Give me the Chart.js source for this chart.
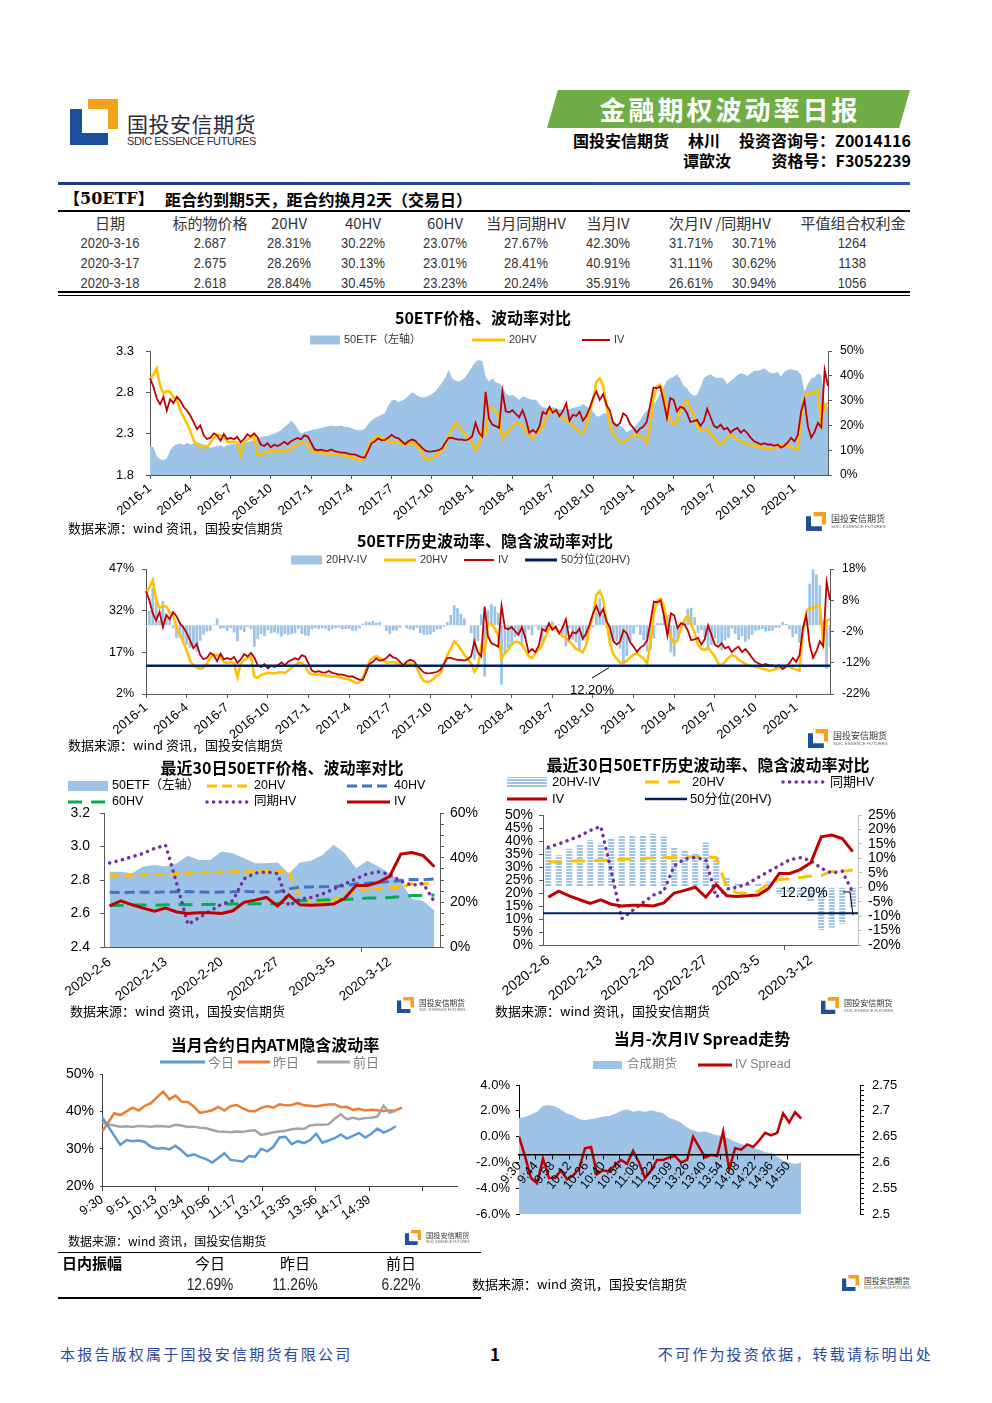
<!DOCTYPE html>
<html>
<head>
<meta charset="utf-8">
<script src="https://cdn.jsdelivr.net/npm/chart.js@4.4.0/dist/chart.umd.min.js"></script>
<style>
body{margin:0;background:#fff;}
#page{position:relative;width:992px;height:1403px;overflow:hidden;font-family:'Noto Sans CJK SC','Liberation Sans',sans-serif;color:#000;}
.t{position:absolute;white-space:nowrap;line-height:1;}
.c{transform:translate(-50%,-50%);}
.cn{transform:translate(-50%,-50%) scaleX(0.86);}
.m{transform:translateY(-50%);}
canvas{position:absolute;}
.src{font-size:13px;}
.num{font-family:'Liberation Sans',sans-serif;}
</style>
</head>
<body>
<div id="page">
  <!-- header -->
  <svg class="t" style="left:70px;top:99px" width="48" height="46" viewBox="0 0 48 46"><path fill="#f4a11e" d="M18 0H48V30H38V10H18Z"/><path fill="#1c4f9c" d="M0 10H12V34H38V46H0Z"/></svg>
  <div class="t m" style="left:127px;top:123px;font-size:21px;color:#2a2a3a;letter-spacing:0.5px">国投安信期货</div>
  <div class="t m num" style="left:127px;top:141px;font-size:11px;color:#2a2a3a;letter-spacing:-0.4px">SDIC ESSENCE FUTURES</div>
  <div class="t" style="left:547px;top:90px;width:363px;height:38px;background:#70ad47;clip-path:polygon(3% 0,100% 0,97% 100%,0 100%)"></div>
  <div class="t c" style="left:730px;top:109px;font-size:26px;font-weight:bold;color:#fff;letter-spacing:3px">金融期权波动率日报</div>
  <div class="t m" style="left:573px;top:140px;font-size:16px;font-weight:bold">国投安信期货</div>
  <div class="t m" style="left:688px;top:140px;font-size:16px;font-weight:bold">林川</div>
  <div class="t m" style="right:81px;top:140px;font-size:16px;font-weight:bold">投资咨询号：Z0014116</div>
  <div class="t m" style="left:683px;top:160px;font-size:16px;font-weight:bold">谭歆汝</div>
  <div class="t m" style="right:81px;top:160px;font-size:16px;font-weight:bold">资格号：F3052239</div>
  <div class="t" style="left:58px;top:182px;width:852px;height:3px;background:linear-gradient(90deg,#1c3a7a,#2c5aa8)"></div>

  <!-- summary table -->
  <div class="t m" style="left:64px;top:199px;font-size:16px;font-weight:bold;font-family:'DejaVu Serif','Noto Sans CJK SC',serif">【50ETF】</div>
  <div class="t m" style="left:165px;top:199px;font-size:16px;font-weight:bold">距合约到期5天，距合约换月2天（交易日）</div>
  <div class="t" style="left:58px;top:210px;width:852px;height:2px;background:#000"></div>
  <div id="tbl"></div>
  <div class="t" style="left:58px;top:291px;width:852px;height:2px;background:#000"></div>
  <div class="t" style="left:58px;top:295px;width:852px;height:1px;background:#000"></div>

  <canvas id="c1" width="992" height="230" style="left:0;top:300px;width:992px;height:230px"></canvas>
  <div class="t m src" style="left:68px;top:527px">数据来源：wind 资讯，国投安信期货</div>

  <canvas id="c2" width="992" height="220" style="left:0;top:530px;width:992px;height:220px"></canvas>
  <div class="t m src" style="left:68px;top:744px">数据来源：wind 资讯，国投安信期货</div>

  <canvas id="c3" width="435" height="255" style="left:55px;top:755px;width:435px;height:255px"></canvas>
  <canvas id="c4" width="440" height="255" style="left:490px;top:755px;width:440px;height:255px"></canvas>
  <div class="t m src" style="left:70px;top:1010px">数据来源：wind 资讯，国投安信期货</div>
  <div class="t m src" style="left:495px;top:1010px">数据来源：wind 资讯，国投安信期货</div>

  <canvas id="c5" width="415" height="205" style="left:55px;top:1030px;width:415px;height:205px"></canvas>
  <canvas id="c6" width="470" height="205" style="left:465px;top:1025px;width:470px;height:205px"></canvas>
  <div class="t m" style="left:68px;top:1241px;font-size:12px">数据来源：wind 资讯，国投安信期货</div>

  <!-- intraday amplitude -->
  <div class="t" style="left:58px;top:1252px;width:423px;height:1px;background:#000"></div>
  <div class="t m" style="left:62px;top:1262px;font-size:15px;font-weight:bold">日内振幅</div>
  <div id="amp"></div>
  <div class="t" style="left:58px;top:1297px;width:423px;height:2px;background:#000"></div>
  <div class="t m src" style="left:472px;top:1283px">数据来源：wind 资讯，国投安信期货</div>

  <div id="logos"></div>

  <!-- footer -->
  <div class="t m" style="left:60px;top:1353px;font-size:15px;color:#2b4a9b;letter-spacing:2.2px">本报告版权属于国投安信期货有限公司</div>
  <div class="t c" style="left:495px;top:1353px;font-size:17px;font-weight:bold">1</div>
  <div class="t m" style="right:59px;top:1353px;font-size:15px;color:#2b4a9b;letter-spacing:2.2px">不可作为投资依据，转载请标明出处</div>
</div>

<script>
// ---------- data ----------
const tableHead = ['日期', '标的物价格', '20HV', '40HV', '60HV', '当月同期HV', '当月IV', '次月IV /同期HV', '平值组合权利金'];
const tableRows = [
  ['2020-3-16', '2.687', '28.31%', '30.22%', '23.07%', '27.67%', '42.30%', '31.71%', '30.71%', '1264'],
  ['2020-3-17', '2.675', '28.26%', '30.13%', '23.01%', '28.41%', '40.91%', '31.11%', '30.62%', '1138'],
  ['2020-3-18', '2.618', '28.84%', '30.45%', '23.23%', '20.24%', '35.91%', '26.61%', '30.94%', '1056']
];
const ampHead = ['今日', '昨日', '前日'];
const ampValues = ['12.69%', '11.26%', '6.22%'];

// weekly samples 2016-1 .. 2020-3-18
const quarterTicks = ['2016-1', '2016-4', '2016-7', '2016-10', '2017-1', '2017-4', '2017-7', '2017-10',
  '2018-1', '2018-4', '2018-7', '2018-10', '2019-1', '2019-4', '2019-7', '2019-10', '2020-1'];
const etfPrice = [
  2.15, 2.14, 2.03, 1.99, 1.98, 2.00, 2.10, 2.15, 2.17, 2.18,
  2.16, 2.19, 2.17, 2.18, 2.20, 2.18, 2.17, 2.16, 2.13, 2.14,
  2.15, 2.16, 2.14, 2.16, 2.17, 2.18, 2.17, 2.18, 2.19, 2.20,
  2.21, 2.23, 2.24, 2.26, 2.27, 2.27, 2.29, 2.30, 2.32, 2.34,
  2.38, 2.41, 2.46, 2.42, 2.36, 2.30, 2.32, 2.33, 2.34, 2.35,
  2.36, 2.37, 2.38, 2.39, 2.40, 2.39, 2.39, 2.40, 2.38, 2.38,
  2.37, 2.35, 2.34, 2.34, 2.36, 2.42, 2.46, 2.49, 2.51, 2.53,
  2.55, 2.64, 2.70, 2.71, 2.68, 2.70, 2.72, 2.76, 2.80, 2.78,
  2.75, 2.74, 2.74, 2.76, 2.78, 2.81, 2.86, 2.92, 2.98, 3.07,
  2.97, 2.94, 2.93, 2.95, 2.99, 3.05, 3.11, 3.17, 3.19, 3.18,
  2.99, 2.93, 2.97, 2.92, 2.91, 2.87, 2.79, 2.76, 2.77, 2.74,
  2.71, 2.75, 2.74, 2.72, 2.71, 2.71, 2.66, 2.62, 2.61, 2.60,
  2.62, 2.61, 2.59, 2.60, 2.59, 2.60, 2.61, 2.62, 2.63, 2.66,
  2.63, 2.61, 2.57, 2.51, 2.51, 2.54, 2.55, 2.51, 2.46, 2.42,
  2.40, 2.37, 2.32, 2.34, 2.37, 2.41, 2.46, 2.53, 2.58, 2.61,
  2.65, 2.71, 2.78, 2.86, 2.94, 2.97, 2.99, 3.02, 2.96, 2.88,
  2.85, 2.79, 2.76, 2.77, 2.86, 2.97, 3.00, 3.02, 2.99, 2.97,
  2.98, 2.96, 2.90, 2.94, 2.97, 3.01, 3.03, 3.02, 3.00, 3.03,
  3.06, 3.06, 3.07, 3.09, 3.06, 3.03, 3.03, 3.05, 2.99, 3.05,
  3.07, 3.08, 3.07, 3.06, 3.01, 2.81, 2.90, 2.97, 2.98, 3.03,
  3.01, 2.687, 2.618
];
const hv20 = [
  38.4, 40.4, 43.0, 36.0, 33.0, 33.8, 33.5, 31.3, 30.5, 26.0,
  23.5, 20.8, 17.8, 14.0, 12.2, 11.5, 11.1, 11.5, 13.0, 15.0,
  16.2, 16.0, 15.4, 13.5, 13.2, 13.5, 13.1, 8.0, 13.0, 14.2,
  15.0, 15.5, 8.3, 7.8, 8.9, 9.3, 9.6, 9.6, 9.4, 9.7,
  9.8, 9.6, 10.5, 11.5, 12.3, 13.3, 13.2, 12.2, 9.6, 9.1,
  9.0, 9.0, 8.8, 8.6, 8.4, 8.3, 8.3, 8.2, 7.7, 7.4,
  7.2, 6.6, 5.9, 6.2, 7.5, 11.0, 13.8, 15.0, 15.6, 15.0,
  14.3, 13.2, 13.4, 13.5, 13.1, 12.8, 12.3, 12.6, 13.0, 12.4,
  11.6, 8.5, 6.8, 6.3, 6.6, 7.6, 8.6, 9.6, 12.5, 16.0,
  18.3, 21.0, 19.8, 18.0, 16.2, 14.5, 13.0, 10.0, 12.0, 19.0,
  17.0, 27.5, 27.0, 25.7, 23.0, 14.7, 16.6, 18.0, 19.7, 20.9,
  20.7, 19.7, 17.9, 15.6, 15.0, 16.8, 17.9, 19.7, 22.7, 25.7,
  26.2, 25.7, 24.1, 22.7, 22.2, 20.9, 19.7, 18.3, 17.6, 17.0,
  19.7, 25.7, 30.3, 37.7, 39.0, 36.1, 27.7, 20.3, 16.3, 14.7,
  13.4, 13.0, 14.0, 15.2, 16.3, 16.6, 15.6, 14.7, 13.0, 20.3,
  31.0, 35.7, 36.4, 33.4, 26.3, 22.3, 20.3, 21.3, 25.7, 28.6,
  30.2, 27.0, 24.3, 19.7, 18.2, 17.9, 18.7, 17.0, 15.5, 13.0,
  12.3, 13.6, 15.0, 16.0, 15.6, 14.3, 13.6, 12.8, 12.3, 12.0,
  11.8, 11.5, 11.1, 10.8, 10.4, 10.6, 11.0, 11.5, 12.0, 12.2,
  11.8, 11.2, 10.8, 10.4, 24.0, 31.7, 33.0, 32.9, 33.6, 33.8,
  20.7, 28.31, 28.84
];
const ivSeries = [
  39.0, 35.7, 31.0, 28.5, 31.5, 26.0, 30.5, 29.0, 31.5, 30.0,
  27.5, 26.0, 24.0, 21.3, 18.5, 20.0, 16.0, 14.5, 15.0, 16.8,
  16.0, 13.8, 16.5, 14.5, 15.0, 14.4, 15.4, 13.2, 14.5, 16.4,
  15.5, 16.8, 15.2, 12.3, 11.7, 12.8, 11.2, 12.2, 11.7, 12.4,
  13.4, 12.4, 13.6, 14.3, 14.9, 14.4, 16.0, 15.5, 13.0, 10.4,
  9.9, 10.2, 9.8, 9.7, 10.3, 9.6, 9.3, 9.0, 9.0, 8.6,
  8.3, 8.3, 7.7, 7.2, 7.0, 9.8, 12.8, 13.6, 14.8, 14.0,
  14.2, 15.0, 16.2, 15.2, 14.8, 13.6, 12.4, 13.6, 14.3, 13.9,
  12.4, 11.0, 9.8, 9.4, 9.5, 9.7, 10.0, 10.8, 13.0, 15.0,
  15.0, 14.6, 14.3, 14.3, 14.0, 14.5, 15.6, 21.0, 17.0, 15.5,
  33.5, 22.7, 20.3, 19.7, 19.0, 33.7, 25.7, 25.3, 26.1, 24.6,
  23.3, 26.1, 22.3, 17.0, 18.2, 17.1, 19.5, 25.4, 24.6, 27.5,
  25.1, 26.2, 23.8, 25.7, 28.9, 21.9, 24.3, 23.8, 25.5, 21.9,
  23.8, 27.0, 31.0, 33.7, 30.3, 32.6, 28.3, 25.9, 21.1, 19.8,
  20.9, 24.9, 23.8, 20.6, 19.0, 17.1, 18.7, 19.5, 21.4, 28.1,
  35.3, 35.0, 35.7, 29.9, 23.0, 31.0, 30.3, 25.7, 27.5, 27.0,
  24.9, 21.4, 21.7, 22.2, 19.8, 21.7, 26.7, 23.3, 19.8, 19.0,
  20.3, 18.4, 19.0, 17.1, 18.3, 19.0, 17.1, 18.2, 16.8, 15.0,
  13.6, 13.0, 12.3, 12.8, 12.3, 12.3, 11.8, 12.3, 11.0, 11.8,
  13.1, 15.0, 13.6, 16.0, 25.7, 30.3, 19.7, 15.0, 17.4, 21.0,
  19.2, 42.3, 35.91
];
const hv20Pct50 = 12.2;

// last 30 trading days
const dates30 = ['2020-2-6', '2020-2-7', '2020-2-10', '2020-2-11', '2020-2-12', '2020-2-13', '2020-2-14',
  '2020-2-17', '2020-2-18', '2020-2-19', '2020-2-20', '2020-2-21', '2020-2-24', '2020-2-25', '2020-2-26',
  '2020-2-27', '2020-2-28', '2020-3-2', '2020-3-3', '2020-3-4', '2020-3-5', '2020-3-6', '2020-3-9',
  '2020-3-10', '2020-3-11', '2020-3-12', '2020-3-13', '2020-3-16', '2020-3-17', '2020-3-18'];
const price30 = [2.85, 2.85, 2.84, 2.88, 2.89, 2.88, 2.90, 2.945, 2.92, 2.92, 2.97, 2.96, 2.93, 2.90, 2.90,
  2.905, 2.84, 2.905, 2.915, 2.95, 3.01, 2.96, 2.87, 2.915, 2.88, 2.84, 2.79, 2.687, 2.675, 2.618];
const hv20d30 = [32.0, 31.8, 32.2, 32.4, 32.3, 32.5, 32.8, 33.0, 33.2, 33.3, 33.5, 33.7, 33.6, 33.8, 34.0,
  33.9, 33.6, 22.2, 20.0, 20.0, 20.7, 23.7, 25.2, 25.5, 26.0, 26.5, 26.8, 28.31, 28.26, 28.84];
const hv40d30 = [24.5, 24.4, 24.5, 24.6, 24.5, 24.6, 24.7, 24.8, 24.6, 24.5, 24.6, 24.7, 24.8, 24.7, 24.6,
  24.6, 26.0, 26.8, 26.9, 27.0, 27.1, 27.5, 28.3, 28.5, 29.0, 29.2, 29.8, 30.22, 30.13, 30.45];
const hv60d30 = [18.7, 18.6, 18.8, 18.8, 18.7, 18.9, 19.0, 18.9, 19.1, 19.0, 19.2, 19.3, 19.2, 19.4, 19.3,
  19.5, 20.2, 20.7, 20.9, 21.0, 21.2, 21.3, 21.6, 21.9, 21.9, 22.2, 22.5, 23.07, 23.01, 23.23];
const sameHv30 = [37.6, 38.9, 40.4, 41.9, 44.1, 45.6, 28.3, 10.1, 13.2, 16.2, 19.2, 20.7, 30.5, 33.1, 33.6,
  32.8, 18.4, 21.5, 22.2, 23.7, 26.0, 28.3, 30.5, 32.8, 33.6, 32.5, 29.5, 27.67, 28.41, 20.24];
const iv30 = [18.4, 20.7, 18.9, 17.4, 16.0, 17.4, 15.7, 15.0, 15.3, 15.3, 15.0, 16.2, 20.0, 21.0, 22.2,
  18.4, 23.3, 18.9, 18.7, 18.9, 19.2, 21.8, 27.5, 27.5, 29.0, 31.6, 41.6, 42.30, 40.91, 35.91];

// intraday ATM IV, one sample every 5 minutes
const intradayTicks = ['9:30', '9:51', '10:13', '10:34', '10:56', '11:17', '13:12', '13:35', '13:56', '14:17', '14:39'];
const todayIv = [38.5, 36.0, 33.5, 31.0, 32.3, 32.0, 32.2, 31.8, 30.5, 30.0, 30.2, 29.8, 30.8, 29.5, 28.0,
  28.5, 27.8, 27.2, 26.3, 27.5, 28.8, 27.0, 26.8, 26.5, 28.0, 27.8, 30.0, 29.3, 30.5, 33.0, 33.2, 31.2,
  32.0, 31.5, 32.3, 34.0, 31.6, 32.2, 32.8, 33.8, 32.7, 33.4, 34.2, 33.0, 34.0, 35.4, 34.3, 35.0, 36.0];
const yesterdayIv = [34.5, 37.0, 39.5, 39.0, 40.0, 41.0, 40.2, 41.5, 42.2, 43.8, 45.3, 43.2, 44.2, 42.6, 42.5,
  41.3, 39.6, 39.9, 40.3, 41.2, 40.2, 41.4, 41.7, 40.8, 40.1, 40.0, 40.9, 41.4, 41.0, 41.9, 41.6, 41.7,
  42.2, 41.6, 41.5, 41.3, 41.6, 41.8, 41.9, 41.1, 41.2, 40.4, 40.7, 40.2, 40.4, 40.3, 40.1, 40.2, 40.3, 41.0];
const prevDayIv = [37.0, 36.5, 36.2, 35.9, 36.0, 35.8, 36.1, 36.0, 35.9, 36.1, 36.0, 35.9, 36.4, 36.2, 35.8,
  35.9, 35.6, 35.5, 35.0, 34.6, 34.5, 34.4, 34.6, 34.5, 34.8, 34.9, 33.7, 34.0, 34.4, 34.6, 34.8, 35.2,
  35.4, 35.3, 36.2, 36.4, 36.4, 36.5, 38.0, 39.2, 37.9, 38.3, 37.9, 38.2, 38.3, 38.6, 41.5, 39.6, 40.2];

// front-next month IV spread and synthetic futures, one sample every 5 minutes
const spreadTicks = ['9:30', '9:44', '9:58', '10:12', '10:26', '10:40', '10:54', '11:08', '11:22', '13:09',
  '13:26', '13:40', '13:54', '14:08', '14:22', '14:36', '14:50'];
const ivSpread = [0.0, -1.5, -3.2, -3.6, -1.7, -3.2, -3.2, -2.6, -3.3, -3.0, -2.5, -0.9, -0.8, -2.9, -2.6,
  -2.7, -2.2, -1.8, -2.1, -1.1, -2.0, -3.2, -2.6, -1.8, -1.8, -1.6, -1.5, -2.0, -1.8, 0.0, -0.8, -1.6,
  -1.4, -1.5, 0.4, -2.5, -0.9, -1.0, -0.6, -0.8, -0.3, 0.3, 0.1, 0.3, 1.8, 1.1, 1.9, 1.4];
const synthFutures = [2.686, 2.688, 2.693, 2.698, 2.710, 2.711, 2.709, 2.702, 2.695, 2.691, 2.684, 2.682,
  2.684, 2.686, 2.689, 2.690, 2.694, 2.700, 2.703, 2.698, 2.700, 2.698, 2.701, 2.698, 2.696, 2.686, 2.683,
  2.677, 2.668, 2.662, 2.659, 2.660, 2.656, 2.653, 2.651, 2.646, 2.640, 2.636, 2.632, 2.628, 2.625, 2.620,
  2.619, 2.611, 2.604, 2.600, 2.597, 2.600];

// ---------- static text ----------
const headX = [110, 210, 289, 363, 445, 526, 608, 720, 853];
const rowX = [110, 210, 289, 363, 445, 526, 608, 691, 754, 852];
let html = '';
tableHead.forEach((h, i) => {
  html += `<div class="t c" style="left:${headX[i]}px;top:222px;font-size:15px;color:#333">${h}</div>`;
});
tableRows.forEach((row, r) => {
  row.forEach((v, i) => {
    html += `<div class="t cn num" style="left:${rowX[i]}px;top:${242 + r * 20}px;font-size:15px;color:#333">${v}</div>`;
  });
});
document.getElementById('tbl').innerHTML = html;

const ampX = [210, 295, 401];
html = '';
ampHead.forEach((h, i) => {
  html += `<div class="t c" style="left:${ampX[i]}px;top:1262px;font-size:15px">${h}</div>`;
  html += `<div class="t cn num" style="left:${ampX[i]}px;top:1285px;font-size:16px;color:#222">${ampValues[i]}</div>`;
});
document.getElementById('amp').innerHTML = html;

function smallLogo(x, y, w) {
  const h = w * 46 / 48;
  return `<svg class="t" style="left:${x}px;top:${y}px" width="${w}" height="${h}" viewBox="0 0 48 46"><path fill="#f4a11e" d="M18 0H48V30H38V10H18Z"/><path fill="#1c4f9c" d="M0 10H12V34H38V46H0Z"/></svg>` +
    `<div class="t" style="left:${x + w + 5}px;top:${y + 2}px;font-size:${w * 0.45}px;color:#333">国投安信期货</div>` +
    `<div class="t num" style="left:${x + w + 5}px;top:${y + 3 + w * 0.5}px;font-size:${w * 0.22}px;color:#666">SDIC ESSENCE FUTURES</div>`;
}
document.getElementById('logos').innerHTML =
  smallLogo(806, 512, 20) + smallLogo(808, 729, 20) + smallLogo(397, 997, 17) +
  smallLogo(821, 997, 18) + smallLogo(405, 1230, 16) + smallLogo(842, 1275, 17);

// ---------- charts ----------
const AXIS = '#595959';
const BLUE_FILL = '#9dc3e6';
const YELLOW = '#ffc000';
const RED = '#c00000';
const NAVY = '#002060';
const HIDE = 'rgba(0,0,0,0)';

Chart.defaults.font.family = "'Liberation Sans','Noto Sans CJK SC',sans-serif";
Chart.defaults.font.size = 13;
Chart.defaults.color = '#000';

// titles, fixed-position legends, reference line and callout
const decor = {
  id: 'decor',
  afterDatasetsDraw(chart, args, o) {
    if (!o.refLine) return;
    const ctx = chart.ctx;
    const y = chart.scales[o.refLine.axis].getPixelForValue(o.refLine.value);
    ctx.save();
    ctx.strokeStyle = o.refLine.color;
    ctx.lineWidth = o.refLine.width;
    ctx.beginPath();
    ctx.moveTo(chart.chartArea.left, y);
    ctx.lineTo(chart.chartArea.right, y);
    ctx.stroke();
    ctx.restore();
  },
  afterDraw(chart, args, o) {
    const ctx = chart.ctx;
    ctx.save();
    ctx.textBaseline = 'middle';
    if (o.title) {
      ctx.font = o.title.font;
      ctx.fillStyle = '#000';
      ctx.textAlign = 'center';
      ctx.fillText(o.title.text, o.title.x, o.title.y);
    }
    ctx.textAlign = 'left';
    (o.legend || []).forEach(it => {
      const ds = chart.data.datasets[it.ds];
      ctx.save();
      if (it.box) {
        ctx.fillStyle = ds.backgroundColor;
        ctx.fillRect(it.x, it.y - (it.h || 8) / 2, it.w, it.h || 8);
      } else {
        ctx.strokeStyle = ds.borderColor;
        ctx.lineWidth = it.lw || ds.borderWidth;
        ctx.setLineDash(ds.borderDash || []);
        ctx.lineCap = ds.borderCapStyle || 'butt';
        ctx.beginPath();
        ctx.moveTo(it.x, it.y);
        ctx.lineTo(it.x + it.w, it.y);
        ctx.stroke();
      }
      ctx.restore();
      ctx.font = o.legendFont;
      ctx.fillStyle = o.legendColor || '#000';
      ctx.fillText(ds.label, it.tx !== undefined ? it.tx : it.x + it.w + 4, it.y);
    });
    if (o.note) {
      const n = o.note;
      const yv = chart.scales[n.axis].getPixelForValue(n.value);
      ctx.strokeStyle = '#000';
      ctx.lineWidth = 1;
      ctx.beginPath();
      n.path.forEach((p, i) => {
        const py = p[1] === 'v' ? yv + 2 : p[1];
        if (i) ctx.lineTo(p[0], py); else ctx.moveTo(p[0], py);
      });
      ctx.stroke();
      ctx.font = n.font;
      ctx.fillStyle = '#000';
      ctx.textAlign = 'center';
      ctx.fillText(n.value.toFixed(2) + '%', n.x, n.y);
    }
    ctx.restore();
  }
};
Chart.register(decor);

function valueAxis(c) {
  return {
    position: c.pos, min: c.min, max: c.max,
    ticks: {
      stepSize: c.step, padding: c.pad === undefined ? 6 : c.pad, autoSkip: false,
      font: { size: c.size || 13 }, color: '#000',
      callback: v => (c.show && !c.show(v)) ? '' : c.fmt(v)
    },
    grid: { drawOnChartArea: false, drawTicks: true, tickLength: c.tick === undefined ? 4 : c.tick, color: c.color || AXIS },
    border: { display: true, color: c.color || AXIS, width: 1 },
    afterFit: s => { s.width = c.width; }
  };
}

const longLabels = [];
for (let y = 2016; y <= 2020; y++) {
  for (let m = 1; m <= 12; m++) {
    if (y === 2020 && m > 3) break;
    const n = (y === 2020 && m === 3) ? 3 : 4;
    for (let w = 0; w < n; w++) longLabels.push(w === 0 ? y + '-' + m : '');
  }
}

function longX(height) {
  return {
    type: 'category', offset: false,
    ticks: {
      autoSkip: false, maxRotation: 40, minRotation: 40, padding: 2, font: { size: 13 },
      callback(v) { const l = this.getLabelForValue(v); return quarterTicks.includes(l) ? l : null; }
    },
    grid: { drawOnChartArea: false, offset: false, tickLength: 4, color: c => (c.tick && c.tick.label ? AXIS : HIDE) },
    border: { display: true, color: AXIS },
    afterFit: s => { s.height = height; }
  };
}

function shortX(height, size) {
  return {
    type: 'category', offset: true,
    ticks: {
      autoSkip: false, maxRotation: 38, minRotation: 38, padding: 2, font: { size },
      callback(v, i) { return i % 5 === 0 ? this.getLabelForValue(v) : null; }
    },
    grid: { drawOnChartArea: false, offset: true, tickLength: 5, color: c => (c.index % 5 === 0 ? AXIS : HIDE) },
    border: { display: true, color: AXIS },
    afterFit: s => { s.height = height; }
  };
}

function opts(padding, scales, decorOpts) {
  return {
    responsive: false, animation: false,
    layout: { padding },
    scales,
    elements: { point: { radius: 0 }, line: { tension: 0 } },
    plugins: { legend: { display: false }, tooltip: { enabled: false }, title: { display: false }, decor: decorOpts }
  };
}

const toXY = (arr, step) => arr.map((v, j) => ({ x: j * step, y: v }));

// chart 1: 50ETF price vs volatility
new Chart(document.getElementById('c1'), {
  type: 'line',
  data: {
    labels: longLabels,
    datasets: [
      { label: '50ETF（左轴）', data: etfPrice, yAxisID: 'y', fill: 'start', backgroundColor: BLUE_FILL, borderWidth: 0, order: 3 },
      { label: '20HV', data: hv20, yAxisID: 'y1', borderColor: YELLOW, borderWidth: 2.5, fill: false, order: 2 },
      { label: 'IV', data: ivSeries, yAxisID: 'y1', borderColor: RED, borderWidth: 1.8, fill: false, order: 1 }
    ]
  },
  options: opts({ top: 51, left: 0, right: 0, bottom: 0 }, {
    x: longX(55),
    y: valueAxis({ pos: 'left', min: 1.8, max: 3.3, step: 0.5, width: 150, pad: 12, fmt: v => v.toFixed(1) }),
    y1: valueAxis({ pos: 'right', min: 0, max: 50, step: 10, width: 164, pad: 8, size: 12, fmt: v => v + '%' })
  }, {
    title: { text: '50ETF价格、波动率对比', x: 483, y: 18, font: "bold 16px 'Noto Sans CJK SC'" },
    legendFont: "11px 'Liberation Sans','Noto Sans CJK SC'", legendColor: '#333',
    legend: [
      { ds: 0, box: true, x: 310, y: 40, w: 30, h: 9 },
      { ds: 1, x: 472, y: 40, w: 33, lw: 3 },
      { ds: 2, x: 582, y: 40, w: 28, lw: 2 }
    ]
  })
});

// chart 2: historical vs implied volatility
new Chart(document.getElementById('c2'), {
  type: 'bar',
  data: {
    labels: longLabels,
    datasets: [
      { label: '20HV-IV', data: hv20.map((v, i) => +(v - ivSeries[i]).toFixed(2)), yAxisID: 'y1', backgroundColor: BLUE_FILL,
        borderWidth: 0, barPercentage: 0.8, categoryPercentage: 1, order: 4 },
      { type: 'line', label: '20HV', data: hv20, yAxisID: 'y', borderColor: YELLOW, borderWidth: 2.5, fill: false, order: 2 },
      { type: 'line', label: 'IV', data: ivSeries, yAxisID: 'y', borderColor: RED, borderWidth: 1.8, fill: false, order: 1 },
      { type: 'line', label: '50分位(20HV)', data: [], yAxisID: 'y', borderColor: NAVY, borderWidth: 3, order: 0 }
    ]
  },
  options: opts({ top: 39, left: 0, right: 0, bottom: 0 }, {
    x: longX(56),
    y: valueAxis({ pos: 'left', min: 2, max: 47, step: 15, width: 146, pad: 8, size: 12.5, fmt: v => v + '%' }),
    y1: valueAxis({ pos: 'right', min: -22, max: 18, step: 10, width: 162, pad: 8, size: 12, fmt: v => v + '%' })
  }, {
    title: { text: '50ETF历史波动率、隐含波动率对比', x: 485, y: 11, font: "bold 16px 'Noto Sans CJK SC'" },
    legendFont: "11px 'Liberation Sans','Noto Sans CJK SC'", legendColor: '#333',
    legend: [
      { ds: 0, box: true, x: 291, y: 30, w: 31, h: 9 },
      { ds: 1, x: 384, y: 30, w: 32, lw: 3 },
      { ds: 2, x: 464, y: 30, w: 30, lw: 2 },
      { ds: 3, x: 525, y: 30, w: 32, lw: 3 }
    ],
    refLine: { axis: 'y', value: hv20Pct50, color: NAVY, width: 2.5 },
    note: { axis: 'y', value: hv20Pct50, x: 592, y: 160, font: "13px 'Liberation Sans'", path: [[609, 'v'], [592, 148]] }
  })
});

// chart 3: last 30 days price vs volatility
new Chart(document.getElementById('c3'), {
  type: 'line',
  data: {
    labels: dates30,
    datasets: [
      { label: '50ETF（左轴）', data: price30, yAxisID: 'y', fill: 'start', backgroundColor: BLUE_FILL, borderWidth: 0, order: 9 },
      { label: '20HV', data: hv20d30, yAxisID: 'y1', borderColor: YELLOW, borderWidth: 3, borderDash: [10, 5], fill: false, order: 5 },
      { label: '40HV', data: hv40d30, yAxisID: 'y1', borderColor: '#4472c4', borderWidth: 3, borderDash: [10, 5], fill: false, order: 4 },
      { label: '60HV', data: hv60d30, yAxisID: 'y1', borderColor: '#00b050', borderWidth: 3, borderDash: [14, 9], fill: false, order: 3 },
      { label: '同期HV', data: sameHv30, yAxisID: 'y1', borderColor: '#7030a0', borderWidth: 3.5, borderDash: [0.1, 6.5], borderCapStyle: 'round', fill: false, order: 2 },
      { label: 'IV', data: iv30, yAxisID: 'y1', borderColor: RED, borderWidth: 3, fill: false, order: 1 }
    ]
  },
  options: opts({ top: 58, left: 0, right: 0, bottom: 0 }, {
    x: shortX(63, 13.5),
    y: valueAxis({ pos: 'left', min: 2.4, max: 3.2, step: 0.2, width: 49, pad: 10, size: 14, fmt: v => v.toFixed(1) }),
    y1: valueAxis({ pos: 'right', min: 0, max: 60, step: 5, width: 50, pad: 6, size: 14, show: v => v % 20 === 0, fmt: v => v + '%' })
  }, {
    title: { text: '最近30日50ETF价格、波动率对比', x: 227, y: 13, font: "bold 16px 'Noto Sans CJK SC'" },
    legendFont: "12.5px 'Liberation Sans','Noto Sans CJK SC'",
    legend: [
      { ds: 0, box: true, x: 13, y: 31, w: 40, h: 10 },
      { ds: 1, x: 152, y: 31, w: 43 },
      { ds: 2, x: 292, y: 31, w: 43 },
      { ds: 3, x: 13, y: 47, w: 40 },
      { ds: 4, x: 152, y: 47, w: 43 },
      { ds: 5, x: 292, y: 47, w: 43 }
    ]
  })
});

// chart 4: last 30 days historical vs implied volatility
const stripe = document.createElement('canvas');
stripe.width = 4; stripe.height = 3;
const sctx = stripe.getContext('2d');
sctx.fillStyle = '#fff'; sctx.fillRect(0, 0, 4, 3);
sctx.fillStyle = BLUE_FILL; sctx.fillRect(0, 0, 4, 2);
const stripeFill = sctx.createPattern(stripe, 'repeat');

new Chart(document.getElementById('c4'), {
  type: 'bar',
  data: {
    labels: dates30,
    datasets: [
      { label: '20HV-IV', data: hv20d30.map((v, i) => +(v - iv30[i]).toFixed(2)), yAxisID: 'y1', backgroundColor: stripeFill,
        borderWidth: 0, barPercentage: 0.58, categoryPercentage: 1, order: 9 },
      { type: 'line', label: '20HV', data: hv20d30, yAxisID: 'y', borderColor: YELLOW, borderWidth: 3, borderDash: [14, 9], fill: false, order: 3 },
      { type: 'line', label: '同期HV', data: sameHv30, yAxisID: 'y', borderColor: '#7030a0', borderWidth: 3.5, borderDash: [0.1, 6.5], borderCapStyle: 'round', fill: false, order: 2 },
      { type: 'line', label: 'IV', data: iv30, yAxisID: 'y', borderColor: RED, borderWidth: 3, fill: false, order: 1 },
      { type: 'line', label: '50分位(20HV)', data: [], yAxisID: 'y', borderColor: NAVY, borderWidth: 3, order: 0 }
    ]
  },
  options: opts({ top: 60, left: 0, right: 0, bottom: 0 }, {
    x: shortX(65, 14),
    y: valueAxis({ pos: 'left', min: 0, max: 50, step: 5, width: 53, pad: 6, size: 14, fmt: v => v + '%' }),
    y1: valueAxis({ pos: 'right', min: -20, max: 25, step: 5, width: 72, pad: 6, size: 14, color: '#bfbfbf', fmt: v => v + '%' })
  }, {
    title: { text: '最近30日50ETF历史波动率、隐含波动率对比', x: 218, y: 10, font: "bold 16px 'Noto Sans CJK SC'" },
    legendFont: "13px 'Liberation Sans','Noto Sans CJK SC'",
    legend: [
      { ds: 0, box: true, x: 17, y: 27, w: 40, h: 10, tx: 62 },
      { ds: 1, x: 155, y: 27, w: 35, tx: 202 },
      { ds: 2, x: 293, y: 27, w: 44, tx: 340 },
      { ds: 3, x: 17, y: 44, w: 40, tx: 62 },
      { ds: 4, x: 155, y: 44, w: 42, lw: 2.5, tx: 200 }
    ],
    refLine: { axis: 'y', value: hv20Pct50, color: NAVY, width: 2 },
    note: { axis: 'y', value: hv20Pct50, x: 314, y: 138, font: "14px 'Liberation Sans'", path: [[353, 137], [360, 137], [363, 'v']] }
  })
});

// chart 5: intraday ATM implied volatility
new Chart(document.getElementById('c5'), {
  type: 'line',
  data: {
    datasets: [
      { label: '今日', data: toXY(todayIv, 5), borderColor: '#5b9bd5', borderWidth: 2.5, fill: false, order: 1 },
      { label: '昨日', data: toXY(yesterdayIv, 5), borderColor: '#ed7d31', borderWidth: 2.5, fill: false, order: 3 },
      { label: '前日', data: toXY(prevDayIv, 5), borderColor: '#a5a5a5', borderWidth: 2.5, fill: false, order: 2 }
    ]
  },
  options: opts({ top: 44, left: 0, right: 13, bottom: 0 }, {
    x: {
      type: 'linear', min: 0, max: 290,
      afterBuildTicks: s => { s.ticks = []; for (let i = 0; i < 14; i++) s.ticks.push({ value: i * 21.85 }); },
      ticks: { autoSkip: false, maxRotation: 35, minRotation: 35, padding: 1, font: { size: 13 }, callback: (v, i) => intradayTicks[i] || '' },
      grid: { drawOnChartArea: false, tickLength: 5, color: c => (c.index % 2 === 0 ? '#404040' : HIDE) },
      border: { display: true, color: '#404040' },
      afterFit: s => { s.height = 49; }
    },
    y: valueAxis({ pos: 'left', min: 20, max: 50, step: 10, width: 47, pad: 6, size: 14, tick: 2, color: '#404040', fmt: v => v + '%' })
  }, {
    title: { text: '当月合约日内ATM隐含波动率', x: 220, y: 15, font: "bold 16px 'Noto Sans CJK SC'" },
    legendFont: "13px 'Noto Sans CJK SC'", legendColor: '#808080',
    legend: [
      { ds: 0, x: 105, y: 32, w: 45, lw: 3, tx: 153 },
      { ds: 1, x: 183, y: 32, w: 32, lw: 3, tx: 218 },
      { ds: 2, x: 262, y: 32, w: 33, lw: 3, tx: 298 }
    ]
  })
});

// chart 6: front-next month IV spread
new Chart(document.getElementById('c6'), {
  type: 'line',
  data: {
    datasets: [
      { label: '合成期货', data: toXY(synthFutures, 5), yAxisID: 'y1', fill: 'start', backgroundColor: BLUE_FILL, borderWidth: 0, order: 2 },
      { label: 'IV Spread', data: toXY(ivSpread, 5), yAxisID: 'y', borderColor: RED, borderWidth: 2.5, fill: false, order: 1 }
    ]
  },
  options: opts({ top: 60, left: 0, right: 0, bottom: 8 }, {
    x: {
      type: 'linear', min: 0, max: 284, position: { y: -1.4 },
      afterBuildTicks: s => { s.ticks = spreadTicks.map((t, i) => ({ value: i * 14 })); },
      ticks: { z: 1, autoSkip: false, maxRotation: 50, minRotation: 50, padding: 0, font: { size: 12.5 }, callback: (v, i) => spreadTicks[i] },
      grid: { z: 1, drawOnChartArea: false, tickLength: 4, color: '#000' },
      border: { z: 1, display: true, color: '#000', width: 1.5 }
    },
    y: valueAxis({ pos: 'left', min: -6, max: 4, step: 2, width: 54, pad: 6, size: 13, tick: 3, color: '#000', fmt: v => v.toFixed(1) + '%' }),
    y1: valueAxis({ pos: 'right', min: 2.5, max: 2.75, step: 0.01, width: 75, pad: 8, size: 13, tick: 4, color: '#000',
      show: v => Math.abs(v * 20 - Math.round(v * 20)) < 1e-6, fmt: v => String(+v.toFixed(2)) })
  }, {
    title: { text: '当月-次月IV Spread走势', x: 237, y: 14, font: "bold 16px 'Noto Sans CJK SC'" },
    legendFont: "12.5px 'Liberation Sans','Noto Sans CJK SC'", legendColor: '#808080',
    legend: [
      { ds: 0, box: true, x: 128, y: 40, w: 29, h: 8, tx: 162 },
      { ds: 1, x: 233, y: 40, w: 34, lw: 3, tx: 270 }
    ]
  })
});
</script>
</body>
</html>
